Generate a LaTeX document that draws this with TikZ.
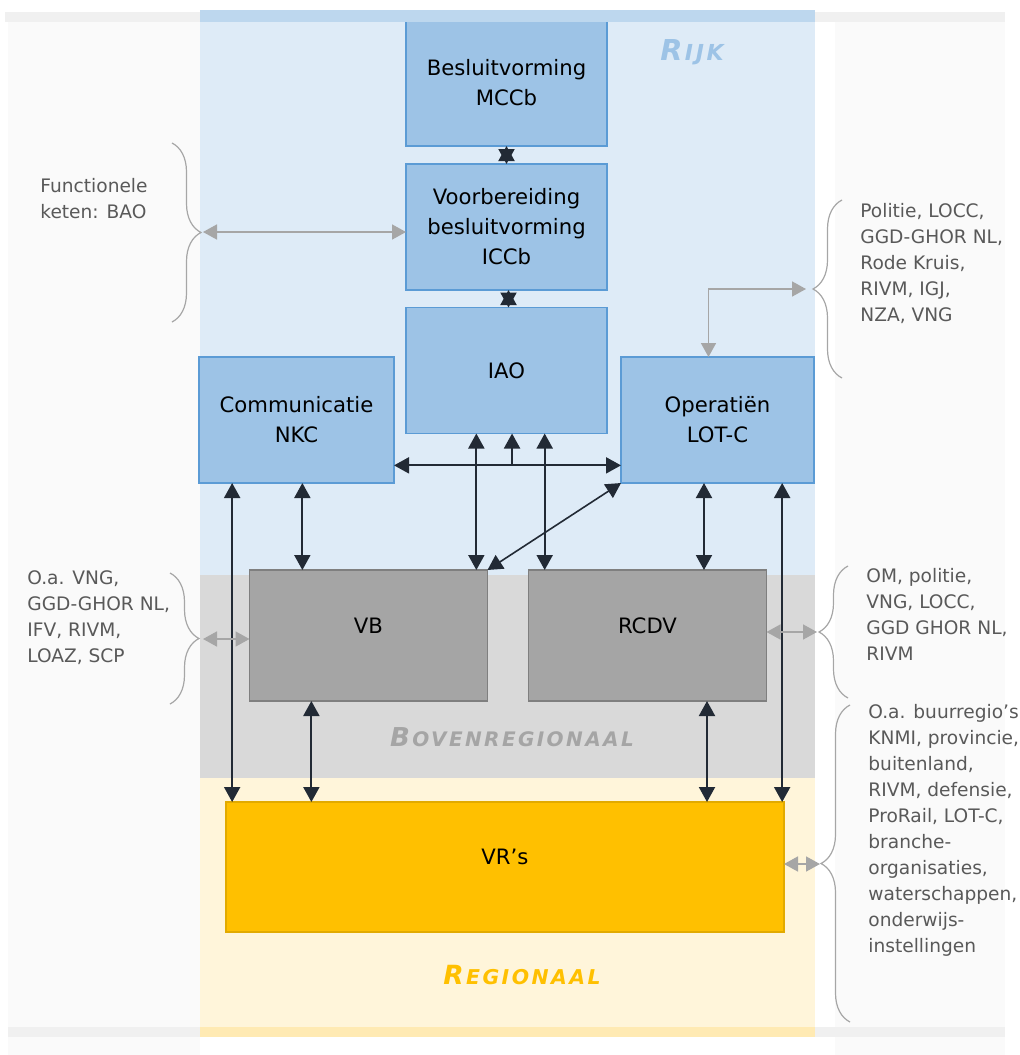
\documentclass[tikz,border=0pt]{standalone}
\usepackage{fontspec}
\usepackage{tikz,xcolor}
\usetikzlibrary{arrows.meta,calc,decorations.pathreplacing}
\setmainfont{DejaVu Sans}
\newfontfamily\titelfont[LetterSpace=12]{DejaVu Sans}
\definecolor{zijvlak}{HTML}{FAFAFA}
\definecolor{randgrijs}{HTML}{F0F0F0}
\definecolor{rijkband}{HTML}{DEEBF7}
\definecolor{rijkrand}{HTML}{BDD7EE}
\definecolor{bovenband}{HTML}{D9D9D9}
\definecolor{regioband}{HTML}{FFF5DA}
\definecolor{regiorand}{HTML}{FFEAB3}
\definecolor{blokblauw}{HTML}{9DC3E6}
\definecolor{blokrand}{HTML}{5B9BD5}
\definecolor{grijsvlak}{HTML}{A5A5A5}
\definecolor{grijsrand}{HTML}{7F7F7F}
\definecolor{vroranje}{HTML}{FFC000}
\definecolor{vrrand}{HTML}{E2AA00}
\definecolor{pijldonker}{HTML}{222A35}
\definecolor{pijlgrijs}{HTML}{A6A6A6}
\definecolor{tekstgrijs}{HTML}{595959}
\newcommand{\kapitaal}[4]{{\fontsize{#1}{#1}\selectfont #3}\kern1.2pt{\fontsize{#2}{#2}\selectfont #4}}

\begin{document}
\begin{tikzpicture}[x=0.5pt, y=-0.5pt,
	blok/.style={draw=blokrand, fill=blokblauw, line width=0.8pt, inner sep=0pt, outer sep=0pt,
		align=center, font=\fontsize{10.6}{15}\selectfont, minimum width=100.5pt, minimum height=63pt},
	grijsblok/.style={blok, draw=grijsrand, fill=grijsvlak, text depth=10pt, minimum width=119pt, minimum height=65.5pt},
	vrblok/.style={blok, draw=vrrand, fill=vroranje, text depth=10pt, minimum width=279pt, minimum height=65pt},
	titel/.style={inner sep=0pt, font=\titelfont\bfseries\itshape},
	zijtekst/.style={anchor=base west, align=left, inner sep=0pt, text=tekstgrijs, font=\fontsize{9.3}{13}\selectfont},
	dpijl/.style={{Triangle[length=7.5pt,width=8pt]}-{Triangle[length=7.5pt,width=8pt]}, draw=pijldonker, line width=1pt},
	epijl/.style={-{Triangle[length=7.5pt,width=8pt]}, draw=pijldonker, line width=1pt},
	gpijl/.style={{Triangle[length=7pt,width=7.5pt]}-{Triangle[length=7pt,width=7.5pt]}, draw=pijlgrijs, line width=0.8pt},
	accolade/.style={decorate, decoration={brace, amplitude=14.5pt}, draw=pijlgrijs, line width=0.6pt}]

	\useasboundingbox (0,0) rectangle (1019,1055);

	% Draw side columns and table strips.
	\fill[zijvlak] (8,22) rectangle (200,1055);
	\fill[zijvlak] (835,22) rectangle (1005,1055);
	\fill[randgrijs] (5,12) rectangle (1005,22);
	\fill[randgrijs] (8,1027) rectangle (1005,1037);

	% Draw the three levels.
	\fill[rijkband] (200,22) rectangle (815,575);
	\fill[bovenband] (200,575) rectangle (815,778);
	\fill[regioband] (200,778) rectangle (815,1027);
	\fill[regiorand] (200,1027) rectangle (815,1037);

	% Level titles.
	\node[titel, text=blokblauw] (rijk) at (692,52) {\kapitaal{14.4}{11}{R}{IJK}};
	\node[titel, text=grijsvlak] (boven) at (512,737) {\kapitaal{13}{10}{B}{OVENREGIONAAL}};
	\node[titel, text=vroranje] (regio) at (522,975) {\kapitaal{13.2}{10.2}{R}{EGIONAAL}};

	% Draw boxes.
	\node[blok] (mccb) at (506.5,83) {Besluitvorming\\MCCb};
	\node[blok] (iccb) at (506.5,227) {Voorbereiding\\besluitvorming\\ICCb};
	\node[blok] (iao) at (506.5,370.5) {IAO};
	\node[blok, minimum width=97.5pt] (nkc) at (296.5,420) {Communicatie\\NKC};
	\node[blok, minimum width=96.5pt] (lotc) at (717.5,420) {Operatiën\\LOT-C};
	\node[grijsblok] (vb) at (368.5,635.5) {VB};
	\node[grijsblok] (rcdv) at (647.5,635.5) {RCDV};
	\node[vrblok] (vrs) at (505,867) {VR’s};

	% Top strip over the first box.
	\fill[rijkrand] (200,10) rectangle (815,22);

	% Arrows within Rijk.
	\draw[dpijl] (mccb.south) -- (iccb.north);
	\draw[dpijl] ([xshift=1pt]iccb.south) -- ([xshift=1pt]iao.north);
	\draw[dpijl] ($(nkc.south east)!.14!(nkc.north east)$) coordinate (h) -- (h -| lotc.west);
	\coordinate (hm) at ($(h)!.52!(h -| lotc.west)$);
	\draw[epijl] (hm) -- (hm |- iao.south);
	\foreach \f/\doel in {.35/vb, .69/rcdv} {
		\draw[dpijl] ($(iao.south west)!\f!(iao.south east)$) coordinate (p) -- (p |- \doel.north);
	}
	\draw[dpijl, line width=0.8pt] (vb.north east) -- (lotc.south west);

	% Vertical arrows down to the lower levels.
	\foreach \van/\naar/\f in {nkc/vb/.53, lotc/rcdv/.43, nkc/vrs/.17, lotc/vrs/.835, vb/vrs/.26, rcdv/vrs/.75} {
		\draw[dpijl] ($(\van.south west)!\f!(\van.south east)$) coordinate (p) -- (p |- \naar.north);
	}

	% Braces with partners.
	\draw[accolade] (172,143) -- (172,322);
	\draw[accolade] (842,378) -- (842,200);
	\draw[accolade] (170,573) -- (170,704);
	\draw[accolade] (848,698) -- (848,566);
	\draw[accolade] (850,1022) -- (850,705);

	% Grey arrows to the braces.
	\coordinate (bao) at (203,232);
	\draw[gpijl] (bao) -- (bao -| iccb.west);
	\coordinate (pol) at (806,289);
	\draw[gpijl] ([xshift=-4.5pt]lotc.north) |- (pol);
	\coordinate (vng) at (203,639);
	\draw[gpijl] (vng) -- (vng -| vb.west);
	\coordinate (om) at (817,632);
	\draw[gpijl] (om -| rcdv.east) -- (om);
	\coordinate (buur) at (820,864);
	\draw[gpijl] (buur -| vrs.east) -- (buur);

	% Partner texts (placed at the baseline of their last line).
	\node[zijtekst] (baotekst) at (40,218) {Functionele\\keten: BAO};
	\node[zijtekst] (poltekst) at (860,321) {Politie, LOCC,\\GGD-GHOR NL,\\Rode Kruis,\\RIVM, IGJ,\\NZA, VNG};
	\node[zijtekst] (vngtekst) at (27,662) {O.a. VNG,\\GGD-GHOR NL,\\IFV, RIVM,\\LOAZ, SCP};
	\node[zijtekst] (omtekst) at (866,660) {OM, politie,\\VNG, LOCC,\\GGD GHOR NL,\\RIVM};
	\node[zijtekst] (buurtekst) at (868,952) {O.a. buurregio’s\\KNMI, provincie,\\buitenland,\\RIVM, defensie,\\ProRail, LOT-C,\\branche-\\organisaties,\\waterschappen,\\onderwijs-\\instellingen};

\end{tikzpicture}
\end{document}
